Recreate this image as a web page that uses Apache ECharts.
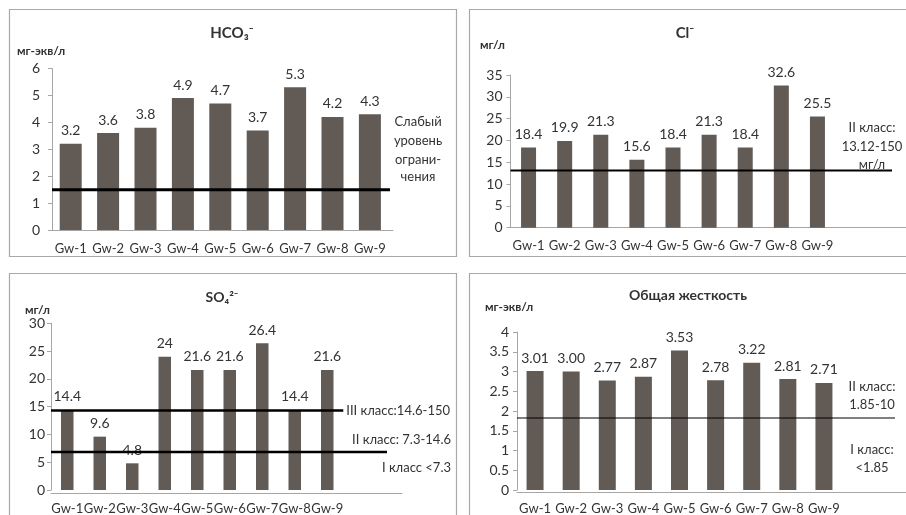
<!DOCTYPE html>
<html>
<head>
<meta charset="utf-8">
<script src="https://cdn.jsdelivr.net/npm/echarts@6/dist/echarts.min.js"></script>
<style>
html,body{margin:0;padding:0;background:#fff;}
#chart{width:906px;height:515px;}
</style>
</head>
<body>
<div id="chart"></div>
<script>
// ---- data ----
const categories = ['Gw-1','Gw-2','Gw-3','Gw-4','Gw-5','Gw-6','Gw-7','Gw-8','Gw-9'];
const hco3Values = [3.2, 3.6, 3.8, 4.9, 4.7, 3.7, 5.3, 4.2, 4.3];
const clValues = [18.4, 19.9, 21.3, 15.6, 18.4, 21.3, 18.4, 32.6, 25.5];
const so4Values = [14.4, 9.6, 4.8, 24, 21.6, 21.6, 26.4, 14.4, 21.6];
const hardnessValues = [3.01, 3.00, 2.77, 2.87, 3.53, 2.78, 3.22, 2.81, 2.71];
const hco3Limits = [1.5];
const clLimits = [13.12];
const so4Limits = [14.6, 7.3];
const hardnessLimits = [1.85];
const hco3Ticks = [0, 1, 2, 3, 4, 5, 6];
const clTicks = [0, 5, 10, 15, 20, 25, 30, 35];
const so4Ticks = [0, 5, 10, 15, 20, 25, 30];
const hardnessTicks = [0, 0.5, 1, 1.5, 2, 2.5, 3, 3.5, 4];
const titles = ['HCO\u2083\u207B', 'Cl\u207B', 'SO\u2084\u00B2\u207B', 'Общая жесткость'];
const units = ['мг-экв/л', 'мг/л', 'мг/л', 'мг-экв/л'];

// ---- layout / style ----
const FONT = 'Lato, "Noto Sans", "DejaVu Sans", sans-serif';
const TXT = '#333333';
const AXIS = '#a6a6a6';
const BAR = '#625a55';

const panels = [
  {values: hco3Values, limits: hco3Limits, ticks: hco3Ticks, fmt: v => v.toFixed(1),
   left: 52, top: 68.5, width: 336.6, height: 161.5, axisEnd: 393, lineEnd: 390, barWidth: 22, limitWidth: 3, labelMargin: 12},
  {values: clValues, limits: clLimits, ticks: clTicks, fmt: v => v.toFixed(1),
   left: 510.5, top: 75, width: 325, height: 152.7, axisEnd: 906, lineEnd: 892, barWidth: 15, limitWidth: 2, labelMargin: 8},
  {values: so4Values, limits: so4Limits, ticks: so4Ticks, fmt: v => String(v),
   left: 51, top: 323.3, width: 292.5, height: 170, axisEnd: 402, lineEnd: 387, barWidth: 12.5, limitWidth: 2.5, labelMargin: 6},
  {values: hardnessValues, limits: hardnessLimits, ticks: hardnessTicks, fmt: v => v.toFixed(2),
   left: 517, top: 332, width: 325, height: 160, axisEnd: 906, lineEnd: 895, barWidth: 17, limitWidth: 1.2, labelMargin: 8}
];

const grid = [], xAxis = [], yAxis = [], series = [];
panels.forEach(p => {
  const min = p.ticks[0], max = p.ticks[p.ticks.length - 1], interval = p.ticks[1] - p.ticks[0];
  // grid A: bars
  const gA = grid.length;
  grid.push({left: p.left, top: p.top, width: p.width, height: p.height});
  xAxis.push({gridIndex: gA, type: 'category', data: categories,
    axisLine: {show: false}, axisTick: {show: false},
    axisLabel: {interval: 0, margin: 12, fontSize: 13, color: TXT, fontFamily: FONT}});
  yAxis.push({gridIndex: gA, type: 'value', min: min, max: max, interval: interval,
    axisLine: {show: true, lineStyle: {color: AXIS, width: 1}},
    axisTick: {show: true, length: 4, lineStyle: {color: AXIS}},
    splitLine: {show: false},
    axisLabel: {margin: p.labelMargin, fontSize: 14, color: TXT, fontFamily: FONT}});
  series.push({type: 'bar', xAxisIndex: gA, yAxisIndex: gA, data: p.values, barWidth: p.barWidth,
    itemStyle: {color: BAR},
    label: {show: true, position: 'top', distance: 6, fontSize: 14, color: TXT, fontFamily: FONT,
      formatter: d => p.fmt(d.value)}});
  // grid B: x axis line extent
  const gB = grid.length;
  grid.push({left: p.left, top: p.top, width: p.axisEnd - p.left, height: p.height});
  xAxis.push({gridIndex: gB, type: 'value', min: 0, max: 1,
    axisLine: {show: true, onZero: false, lineStyle: {color: AXIS, width: 1}},
    axisTick: {show: false}, axisLabel: {show: false}, splitLine: {show: false}});
  yAxis.push({gridIndex: gB, type: 'value', min: min, max: max, show: false, splitLine: {show: false}});
  // grid C: limit lines
  const gC = grid.length;
  grid.push({left: p.left, top: p.top, width: p.lineEnd - p.left, height: p.height});
  xAxis.push({gridIndex: gC, type: 'value', min: 0, max: 1, show: false, splitLine: {show: false}});
  yAxis.push({gridIndex: gC, type: 'value', min: min, max: max, show: false, splitLine: {show: false}});
  p.limits.forEach(v => {
    series.push({type: 'line', xAxisIndex: gC, yAxisIndex: gC, data: [[0, v], [1, v]],
      symbol: 'none', silent: true, z: 5, lineStyle: {color: '#000', width: p.limitWidth}});
  });
});

function txt(x, y, text, opts) {
  return {type: 'text', x: x, y: y, silent: true, z: 100,
    style: Object.assign({text: text, fontFamily: FONT, fontSize: 13, fill: TXT,
      textAlign: 'center', textVerticalAlign: 'middle'}, opts || {})};
}
function frame(x, y, w, h) {
  return {type: 'rect', shape: {x: x, y: y, width: w, height: h}, silent: true, z: -10,
    style: {fill: '#fff', stroke: '#a9a9a9', lineWidth: 1.2}};
}

const graphic = [
  frame(9.5, 9.5, 447, 247),
  frame(469.5, 9.5, 440, 247),
  frame(9.5, 273.5, 447, 250),
  frame(469.5, 273.5, 440, 250),
  // titles
  txt(232, 33, titles[0], {fontSize: 15, fontWeight: 'bold'}),
  txt(685, 33, titles[1], {fontSize: 15, fontWeight: 'bold'}),
  txt(222, 297, titles[2], {fontSize: 14, fontWeight: 'bold'}),
  txt(688, 295, titles[3], {fontSize: 14, fontWeight: 'bold'}),
  // units
  txt(17, 51, units[0], {fontSize: 12, fontWeight: 'bold', textAlign: 'left'}),
  txt(480, 45, units[1], {fontSize: 12, fontWeight: 'bold', textAlign: 'left'}),
  txt(25, 310, units[2], {fontSize: 12, fontWeight: 'bold', textAlign: 'left'}),
  txt(485, 307, units[3], {fontSize: 12, fontWeight: 'bold', textAlign: 'left'}),
  // annotations
  txt(418, 122, 'Слабый'),
  txt(418, 141, 'уровень'),
  txt(418, 160, 'ограни-'),
  txt(418, 177, 'чения'),
  txt(872, 128, 'II класс:'),
  txt(872, 147, '13.12-150'),
  txt(872, 165, 'мг/л'),
  txt(451, 411, 'III класс:14.6-150', {textAlign: 'right', backgroundColor: '#fff', padding: [2, 1, 2, 3]}),
  txt(451, 440, 'II класс: 7.3-14.6', {textAlign: 'right'}),
  txt(451, 468, 'I класс <7.3', {textAlign: 'right'}),
  txt(872, 387, 'II класс:'),
  txt(872, 405, '1.85-10'),
  txt(872, 450, 'I класс:'),
  txt(872, 468, '<1.85')
];

const chart = echarts.init(document.getElementById('chart'), null, {renderer: 'canvas'});
chart.setOption({
  animation: false,
  backgroundColor: '#fff',
  textStyle: {fontFamily: FONT},
  grid: grid, xAxis: xAxis, yAxis: yAxis, series: series, graphic: graphic
});
</script>
</body>
</html>
